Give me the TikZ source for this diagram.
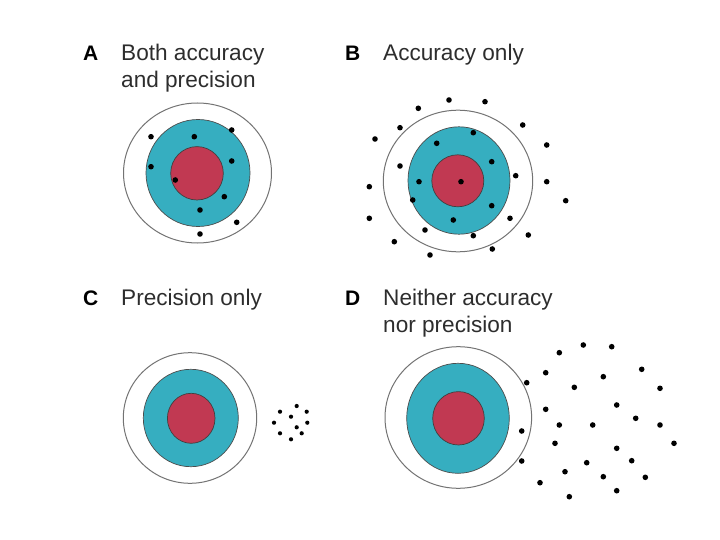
\documentclass[tikz,border=0pt]{standalone}
\usepackage{fontspec}
\setmainfont{Liberation Sans}
\definecolor{tgred}{RGB}{193,57,82}
\definecolor{tgteal}{RGB}{54,174,192}
\definecolor{txt}{RGB}{45,45,45}
\begin{document}
\begin{tikzpicture}[x=1pt,y=-1pt,
  lbl/.style={anchor=base west,inner sep=0pt,text=txt,font=\fontsize{22.6}{26}\selectfont},
  letter/.style={anchor=base west,inner sep=0pt,text=black,font=\fontsize{21}{26}\selectfont\bfseries},
  outer/.style={draw=black!55,line width=1pt,fill=white},
  mid/.style={draw=black!70,line width=0.7pt,fill=tgteal},
  inner/.style={draw=black!75,line width=0.7pt,fill=tgred},
  dot/.style={fill=black}]
\useasboundingbox (0,0) rectangle (720,540);
% labels
\node[letter] (la) at (83,61) {A};
\node[lbl] (ta1) at (121,61) {Both accuracy};
\node[lbl] (ta2) at (121,88) {and precision};
\node[letter] (lb) at (345,61) {B};
\node[lbl] (tb1) at (383,61) {Accuracy only};
\node[letter] (lc) at (83,305) {C};
\node[lbl] (tc1) at (121,305) {Precision only};
\node[letter] (ld) at (345,305) {D};
\node[lbl] (td1) at (383,305) {Neither accuracy};
\node[lbl] (td2) at (383,332) {nor precision};
% target A
\draw[outer] (197.5,173) ellipse [x radius=74,y radius=70];
\draw[mid] (198,173) ellipse [x radius=52,y radius=53.5];
\draw[inner] (197,173.3) ellipse [x radius=26.3,y radius=26.7];
\foreach \p in {(151,136.7),(194.3,136.7),(231.7,130),(151,166.7),(231.7,161),(175.3,180),(224.3,196.7),(200,210),(236.7,222.3),(200,234)}
  \fill[dot] \p circle (2.8);
% target B
\draw[outer] (458,181) ellipse [x radius=74.7,y radius=70.8];
\draw[mid] (459,180.5) ellipse [x radius=51,y radius=53.7];
\draw[inner] (457.8,180.8) ellipse [x radius=26,y radius=26];
\foreach \p in {(449,100),(485,101.7),(418.3,108.3),(522.7,125),(400,127.7),(375,139),(473.3,132.7),(436.7,143.3),(546.7,145),(491.7,161.7),(400,166),(515.7,175.7),(419,181.7),(461,181.7),(546.7,181.7),(369.3,186.7),(412.7,200),(565.7,200.7),(491.7,205.7),(453.3,220),(369.3,218.3),(510,218.3),(425,230),(473.3,235.7),(528.3,235),(394.3,241.7),(492.3,249),(430,255)}
  \fill[dot] \p circle (2.8);
% target C
\draw[outer] (190,418) ellipse [x radius=66.7,y radius=65.3];
\draw[mid] (190.8,418) ellipse [x radius=47.5,y radius=48.7];
\draw[inner] (191.2,418.3) ellipse [x radius=23.8,y radius=25];
\foreach \p in {(280,411.7),(296.7,406),(306.7,411.7),(291,416.7),(274,422.7),(307.3,422.7),(296.7,427.3),(280,433.3),(301.7,433.3),(291,439.3)}
  \fill[dot] \p circle (2.1);
% target D
\draw[outer] (458.3,417.5) ellipse [x radius=73.3,y radius=70.8];
\draw[mid] (458,418.3) ellipse [x radius=51.3,y radius=55];
\draw[inner] (458.5,418.3) ellipse [x radius=25.8,y radius=26.7];
\foreach \p in {(583.3,345),(611.7,346.7),(559.3,352.7),(641.7,369.3),(545.7,372.7),(603.3,376.7),(526.7,382.7),(574.3,387.3),(660,388.3),(616.7,405),(545.7,409.3),(635.7,418.3),(559.3,425),(592.7,425),(660,425),(521.7,431),(555,443.3),(674,443.3),(616.7,448.3),(521.7,461),(586.7,462.7),(631.7,460.7),(565,471.7),(603.3,476.7),(645.3,477.3),(540,482.7),(616.7,490.7),(569.3,496.7)}
  \fill[dot] \p circle (2.8);
\end{tikzpicture}
\end{document}
